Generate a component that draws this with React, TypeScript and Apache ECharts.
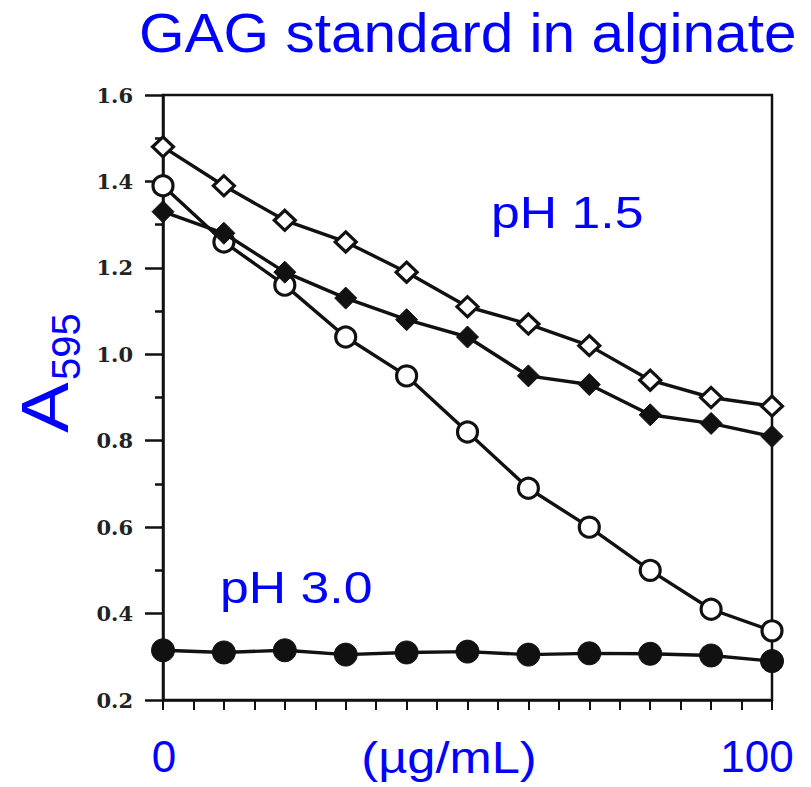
import React, { useEffect, useRef } from "react";
import * as echarts from "echarts";

const BLUE = "#0000ff";
const INK = "#111111";

const concentrations = [0, 10, 20, 30, 40, 50, 60, 70, 80, 90, 100];
const openDiamondPH15 = [1.48, 1.39, 1.31, 1.26, 1.19, 1.11, 1.07, 1.02, 0.94, 0.9, 0.88];
const filledDiamondPH15 = [1.33, 1.28, 1.19, 1.13, 1.08, 1.04, 0.95, 0.93, 0.86, 0.84, 0.81];
const openCirclePH15 = [1.39, 1.26, 1.16, 1.04, 0.95, 0.82, 0.69, 0.6, 0.5, 0.41, 0.36];
const filledCirclePH30 = [0.315, 0.31, 0.315, 0.305, 0.31, 0.312, 0.305, 0.308, 0.307, 0.303, 0.29];

const xTickLabels: Record<number, string> = { 0: "0", 100: "100" };
const yTicks = { min: 0.2, max: 1.6, interval: 0.2 };

const titleText = "GAG standard in alginate";
const xName = "(µg/mL)";
const yNameMain = "A";
const yNameSub = "595";
const label15 = "pH 1.5";
const label30 = "pH 3.0";

function pairs(vals: number[]) {
  return concentrations.map((c, i) => [c, vals[i]]);
}

export default function App() {
  const ref = useRef<HTMLDivElement>(null);
  useEffect(() => {
    const chart = echarts.init(ref.current!, null, { renderer: "svg" });
    const lineStyle = { color: INK, width: 3.4 };
    const openItem = { color: "#ffffff", borderColor: INK, borderWidth: 3.2 };
    const filledItem = { color: INK, borderColor: INK, borderWidth: 1 };
    const sans = '"Liberation Sans", Arial, sans-serif';
    chart.setOption({
      animation: false,
      backgroundColor: "#ffffff",
      grid: {
        left: 163,
        right: 39,
        top: 95,
        bottom: 87,
        show: true,
        borderColor: INK,
        borderWidth: 2.5,
        containLabel: false,
      },
      xAxis: {
        type: "value",
        min: 0,
        max: 100,
        interval: 10,
        axisLine: { show: true, lineStyle: { color: INK, width: 2.5 } },
        axisTick: { show: true, length: 10, lineStyle: { color: INK, width: 2 } },
        minorTick: { show: true, splitNumber: 2, length: 10, lineStyle: { color: INK, width: 2 } },
        splitLine: { show: false },
        axisLabel: {
          margin: 34,
          formatter: (v: number) => {
            const t = xTickLabels[v];
            if (!t) return "";
            return v === 100 ? `{r|${t}}` : `{z|${t}}`;
          },
          rich: {
            z: { fontSize: 44, fontFamily: sans, color: BLUE, padding: [0, 0, 0, 2] },
            r: { fontSize: 44, fontFamily: sans, color: BLUE, padding: [0, 30, 0, 0] },
          },
        },
      },
      yAxis: {
        type: "value",
        min: yTicks.min,
        max: yTicks.max,
        interval: yTicks.interval,
        axisLine: { show: true, lineStyle: { color: INK, width: 2.5 } },
        axisTick: { show: true, length: 18, lineStyle: { color: INK, width: 2.5 } },
        minorTick: { show: true, splitNumber: 2, length: 8, lineStyle: { color: INK, width: 2.5 } },
        splitLine: { show: false },
        axisLabel: {
          margin: 30,
          color: "#222222",
          fontFamily: '"DejaVu Serif", serif',
          fontWeight: "bold",
          fontSize: 21,
          formatter: (v: number) => v.toFixed(1),
        },
      },
      series: [
        {
          type: "line",
          data: pairs(filledCirclePH30),
          symbol: "circle",
          symbolSize: 23,
          lineStyle,
          itemStyle: filledItem,
          z: 2,
        },
        {
          type: "line",
          data: pairs(openCirclePH15),
          symbol: "circle",
          symbolSize: 20,
          lineStyle,
          itemStyle: openItem,
          z: 3,
        },
        {
          type: "line",
          data: pairs(filledDiamondPH15),
          symbol: "diamond",
          symbolSize: [22, 22],
          lineStyle,
          itemStyle: filledItem,
          z: 4,
        },
        {
          type: "line",
          data: pairs(openDiamondPH15),
          symbol: "diamond",
          symbolSize: [21, 20],
          lineStyle,
          itemStyle: openItem,
          z: 5,
        },
      ],
      graphic: [
        {
          type: "text",
          x: 139,
          y: 33,
          scaleX: 1.065,
          style: { text: titleText, fontSize: 55, fontFamily: sans, fill: BLUE, align: "left", verticalAlign: "middle" },
        },
        {
          type: "text",
          x: 45,
          y: 433,
          rotation: Math.PI / 2,
          scaleX: 1.15,
          style: { text: yNameMain, fontSize: 66, fontFamily: sans, fill: BLUE, align: "left", verticalAlign: "middle" },
        },
        {
          type: "text",
          x: 66,
          y: 380,
          rotation: Math.PI / 2,
          style: { text: yNameSub, fontSize: 40, fontFamily: sans, fill: BLUE, align: "left", verticalAlign: "middle" },
        },
        {
          type: "text",
          x: 491,
          y: 212,
          scaleX: 1.15,
          style: { text: label15, fontSize: 45, fontFamily: sans, fill: BLUE, align: "left", verticalAlign: "middle" },
        },
        {
          type: "text",
          x: 220,
          y: 587,
          scaleX: 1.15,
          style: { text: label30, fontSize: 45, fontFamily: sans, fill: BLUE, align: "left", verticalAlign: "middle" },
        },
        {
          type: "text",
          x: 449,
          y: 758,
          scaleX: 1.15,
          style: { text: xName, fontSize: 44, fontFamily: sans, fill: BLUE, align: "center", verticalAlign: "middle" },
        },
      ],
    });
    return () => chart.dispose();
  }, []);
  return (
    <div
      ref={ref}
      style={{ position: "fixed", left: 0, top: 0, width: 811, height: 787, background: "#fff" }}
    />
  );
}
